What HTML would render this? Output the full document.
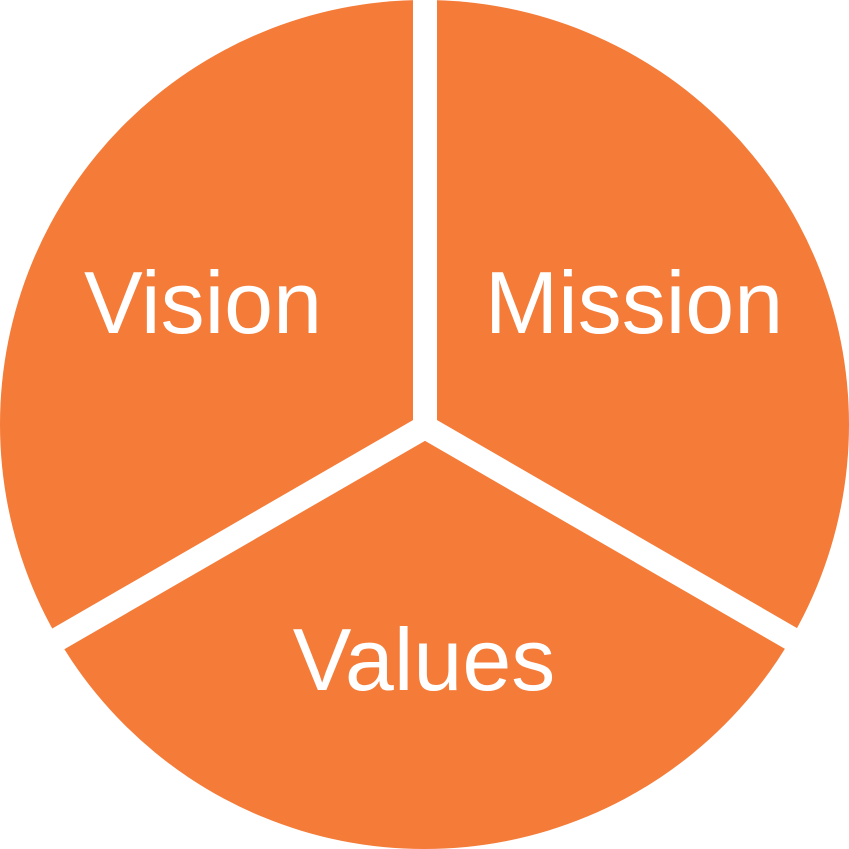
<!DOCTYPE html>
<html><head><style>html,body{margin:0;padding:0;background:#fff;width:849px;height:849px;overflow:hidden}</style></head>
<body>
<svg width="849" height="849" viewBox="0 0 849 849" xmlns="http://www.w3.org/2000/svg">
<circle cx="424.5" cy="424.5" r="424.5" fill="#F47B38"/>
<g stroke="#fff" stroke-width="24" fill="none">
<line x1="425" y1="-5" x2="425" y2="428"/>
<polyline points="20,661 425,427 830,661" stroke-linejoin="miter" stroke-miterlimit="10"/>
</g>
<g fill="#fff" font-family="'Liberation Sans', sans-serif" font-size="88" text-anchor="middle">
<text x="203" y="333">Vision</text>
<text x="634" y="333">Mission</text>
<text x="424" y="690">Values</text>
</g>
</svg>
</body></html>
